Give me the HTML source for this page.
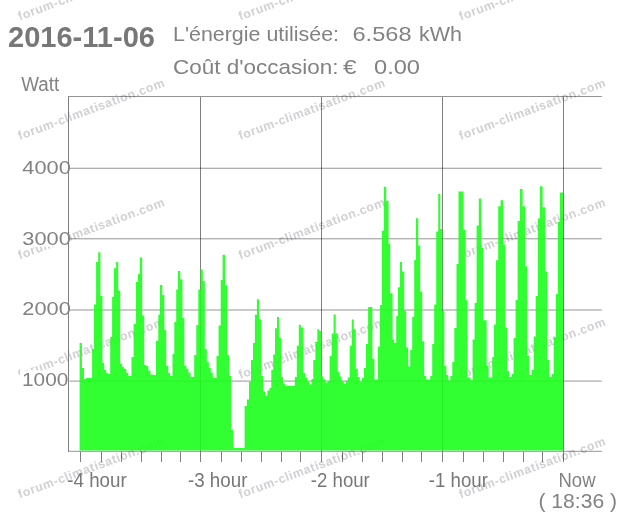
<!DOCTYPE html><html><head><meta charset="utf-8"><title>chart</title><style>html,body{margin:0;padding:0;background:#fff}svg{display:block}</style></head><body><svg width="635" height="523" viewBox="0 0 635 523">
<rect width="635" height="523" fill="#fff"/>
<g font-family="'Liberation Sans', sans-serif" font-weight="bold" font-size="12.3" fill="#d1d1d5"><text transform="translate(19.8,20.5) rotate(-20.3)" textLength="155" lengthAdjust="spacing">forum-climatisation.com</text><text transform="translate(240.3,20.5) rotate(-20.3)" textLength="155" lengthAdjust="spacing">forum-climatisation.com</text><text transform="translate(460.8,20.5) rotate(-20.3)" textLength="155" lengthAdjust="spacing">forum-climatisation.com</text><text transform="translate(19.8,140.0) rotate(-20.3)" textLength="155" lengthAdjust="spacing">forum-climatisation.com</text><text transform="translate(240.3,140.0) rotate(-20.3)" textLength="155" lengthAdjust="spacing">forum-climatisation.com</text><text transform="translate(460.8,140.0) rotate(-20.3)" textLength="155" lengthAdjust="spacing">forum-climatisation.com</text><text transform="translate(19.8,259.5) rotate(-20.3)" textLength="155" lengthAdjust="spacing">forum-climatisation.com</text><text transform="translate(240.3,259.5) rotate(-20.3)" textLength="155" lengthAdjust="spacing">forum-climatisation.com</text><text transform="translate(460.8,259.5) rotate(-20.3)" textLength="155" lengthAdjust="spacing">forum-climatisation.com</text><text transform="translate(19.8,379.0) rotate(-20.3)" textLength="155" lengthAdjust="spacing">forum-climatisation.com</text><text transform="translate(240.3,379.0) rotate(-20.3)" textLength="155" lengthAdjust="spacing">forum-climatisation.com</text><text transform="translate(460.8,379.0) rotate(-20.3)" textLength="155" lengthAdjust="spacing">forum-climatisation.com</text><text transform="translate(19.8,498.5) rotate(-20.3)" textLength="155" lengthAdjust="spacing">forum-climatisation.com</text><text transform="translate(240.3,498.5) rotate(-20.3)" textLength="155" lengthAdjust="spacing">forum-climatisation.com</text><text transform="translate(460.8,498.5) rotate(-20.3)" textLength="155" lengthAdjust="spacing">forum-climatisation.com</text></g>
<rect x="20" y="370.3" width="48" height="17.5" fill="#fff"/>
<rect x="20" y="299.6" width="48" height="17.5" fill="#fff"/>
<rect x="20" y="229.1" width="48" height="17.5" fill="#fff"/>
<rect x="20" y="158.2" width="48" height="17.5" fill="#fff"/>
<g stroke="#000" stroke-opacity="0.42" stroke-width="1"><line x1="68" y1="96.5" x2="601.8" y2="96.5"/><line x1="69.5" y1="168.25" x2="601.8" y2="168.25"/><line x1="69.5" y1="238.8" x2="601.8" y2="238.8"/><line x1="69.5" y1="310.0" x2="601.8" y2="310.0"/><line x1="69.5" y1="381.1" x2="601.8" y2="381.1"/><line x1="68" y1="451.3" x2="601.8" y2="451.3"/></g>
<g stroke="#000" stroke-opacity="0.5" stroke-width="1"><line x1="68.5" y1="97" x2="68.5" y2="451.3"/><line x1="200.5" y1="97" x2="200.5" y2="451.3"/><line x1="321.5" y1="97" x2="321.5" y2="451.3"/><line x1="442.5" y1="97" x2="442.5" y2="451.3"/><line x1="563.5" y1="97" x2="563.5" y2="451.3"/><line x1="80.50" y1="451.8" x2="80.50" y2="462"/><line x1="101.50" y1="451.8" x2="101.50" y2="462"/><line x1="121.50" y1="451.8" x2="121.50" y2="462"/><line x1="141.50" y1="451.8" x2="141.50" y2="462"/><line x1="161.50" y1="451.8" x2="161.50" y2="462"/><line x1="180.50" y1="451.8" x2="180.50" y2="462"/><line x1="200.50" y1="451.8" x2="200.50" y2="462"/><line x1="221.50" y1="451.8" x2="221.50" y2="462"/><line x1="241.50" y1="451.8" x2="241.50" y2="462"/><line x1="261.50" y1="451.8" x2="261.50" y2="462"/><line x1="281.50" y1="451.8" x2="281.50" y2="462"/><line x1="300.50" y1="451.8" x2="300.50" y2="462"/><line x1="321.50" y1="451.8" x2="321.50" y2="462"/><line x1="342.50" y1="451.8" x2="342.50" y2="462"/><line x1="362.50" y1="451.8" x2="362.50" y2="462"/><line x1="382.50" y1="451.8" x2="382.50" y2="462"/><line x1="402.50" y1="451.8" x2="402.50" y2="462"/><line x1="421.50" y1="451.8" x2="421.50" y2="462"/><line x1="442.50" y1="451.8" x2="442.50" y2="462"/><line x1="463.50" y1="451.8" x2="463.50" y2="462"/><line x1="483.50" y1="451.8" x2="483.50" y2="462"/><line x1="503.50" y1="451.8" x2="503.50" y2="462"/><line x1="523.50" y1="451.8" x2="523.50" y2="462"/><line x1="542.50" y1="451.8" x2="542.50" y2="462"/><line x1="563.50" y1="451.8" x2="563.50" y2="462"/></g>
<path d="M79.60,450.5L79.60,343.0L81.90,343.0L81.90,368.0L84.00,368.0L84.00,379.0L86.00,379.0L86.00,378.0L92.10,378.0L92.10,349.0L94.00,349.0L94.00,304.6L96.10,304.6L96.10,262.0L98.20,262.0L98.20,252.3L100.40,252.3L100.40,296.0L102.40,296.0L102.40,363.0L104.20,363.0L104.20,370.0L106.20,370.0L106.20,373.0L108.20,373.0L108.20,374.0L110.20,374.0L110.20,337.0L112.10,337.0L112.10,296.7L113.90,296.7L113.90,268.3L116.10,268.3L116.10,262.0L118.20,262.0L118.20,290.4L120.20,290.4L120.20,364.0L122.20,364.0L122.20,367.0L124.30,367.0L124.30,369.0L126.30,369.0L126.30,373.0L128.30,373.0L128.30,376.0L131.50,376.0L131.50,357.0L133.60,357.0L133.60,324.0L135.90,324.0L135.90,282.0L137.90,282.0L137.90,274.0L139.90,274.0L139.90,257.6L142.20,257.6L142.20,315.6L144.20,315.6L144.20,365.0L146.20,365.0L146.20,366.0L148.20,366.0L148.20,370.6L150.40,370.6L150.40,374.6L152.80,374.6L152.80,375.0L156.00,375.0L156.00,340.7L158.30,340.7L158.30,314.7L159.90,314.7L159.90,285.0L162.30,285.0L162.30,295.0L164.30,295.0L164.30,330.0L166.20,330.0L166.20,366.0L168.20,366.0L168.20,373.0L170.10,373.0L170.10,376.0L172.50,376.0L172.50,354.0L174.30,354.0L174.30,322.0L176.20,322.0L176.20,289.6L178.00,289.6L178.00,271.0L180.30,271.0L180.30,279.2L182.40,279.2L182.40,318.0L184.30,318.0L184.30,365.7L186.40,365.7L186.40,369.0L188.40,369.0L188.40,372.7L190.60,372.7L190.60,377.0L194.20,377.0L194.20,355.0L196.30,355.0L196.30,325.0L198.30,325.0L198.30,289.6L200.50,289.6L200.50,269.6L202.80,269.6L202.80,281.0L204.80,281.0L204.80,349.0L206.80,349.0L206.80,362.0L208.80,362.0L208.80,368.0L210.80,368.0L210.80,372.7L212.80,372.7L212.80,378.0L216.50,378.0L216.50,356.0L218.60,356.0L218.60,325.5L220.70,325.5L220.70,280.0L222.60,280.0L222.60,254.8L225.00,254.8L225.00,285.3L227.00,285.3L227.00,355.0L229.00,355.0L229.00,376.0L231.00,376.0L231.00,430.0L233.00,430.0L233.00,448.0L244.60,448.0L244.60,406.0L246.90,406.0L246.90,399.5L249.00,399.5L249.00,382.0L251.00,382.0L251.00,360.0L253.00,360.0L253.00,343.0L254.90,343.0L254.90,314.8L256.90,314.8L256.90,299.2L259.00,299.2L259.00,319.2L261.10,319.2L261.10,376.0L263.10,376.0L263.10,391.3L265.20,391.3L265.20,395.7L267.30,395.7L267.30,390.5L269.40,390.5L269.40,388.0L271.30,388.0L271.30,370.0L273.20,370.0L273.20,354.4L275.00,354.4L275.00,328.3L277.00,328.3L277.00,317.0L279.10,317.0L279.10,337.9L281.20,337.9L281.20,377.0L283.00,377.0L283.00,383.5L285.20,383.5L285.20,385.7L294.80,385.7L294.80,377.0L296.80,377.0L296.80,345.7L298.80,345.7L298.80,324.8L300.90,324.8L300.90,327.4L303.20,327.4L303.20,373.0L305.30,373.0L305.30,377.4L307.40,377.4L307.40,381.8L309.60,381.8L309.60,384.4L311.50,384.4L311.50,379.0L313.30,379.0L313.30,360.0L315.40,360.0L315.40,342.0L317.30,342.0L317.30,329.2L319.40,329.2L319.40,331.0L321.50,331.0L321.50,376.6L323.50,376.6L323.50,379.2L325.60,379.2L325.60,382.6L327.60,382.6L327.60,381.0L329.60,381.0L329.60,356.0L331.70,356.0L331.70,333.5L333.60,333.5L333.60,314.4L335.70,314.4L335.70,333.5L337.70,333.5L337.70,372.0L339.70,372.0L339.70,376.6L341.70,376.6L341.70,381.0L343.70,381.0L343.70,383.5L345.70,383.5L345.70,381.0L347.70,381.0L347.70,377.4L349.70,377.4L349.70,345.7L351.80,345.7L351.80,319.6L353.80,319.6L353.80,329.2L355.80,329.2L355.80,368.7L357.80,368.7L357.80,377.0L359.80,377.0L359.80,382.0L361.80,382.0L361.80,378.0L364.00,378.0L364.00,368.0L366.00,368.0L366.00,344.0L368.10,344.0L368.10,307.0L372.40,307.0L372.40,358.7L374.40,358.7L374.40,379.6L377.80,379.6L377.80,346.6L380.00,346.6L380.00,305.0L381.80,305.0L381.80,230.7L383.80,230.7L383.80,186.8L386.20,186.8L386.20,200.8L388.50,200.8L388.50,243.8L390.20,243.8L390.20,293.3L392.50,293.3L392.50,339.6L394.20,339.6L394.20,343.0L396.20,343.0L396.20,316.0L398.00,316.0L398.00,287.2L400.00,287.2L400.00,262.0L402.00,262.0L402.00,271.5L404.20,271.5L404.20,310.7L406.20,310.7L406.20,347.4L408.20,347.4L408.20,366.6L410.20,366.6L410.20,350.0L412.20,350.0L412.20,316.8L414.20,316.8L414.20,260.0L416.00,260.0L416.00,218.2L418.20,218.2L418.20,245.5L420.20,245.5L420.20,291.5L422.20,291.5L422.20,341.3L424.20,341.3L424.20,376.0L426.20,376.0L426.20,379.6L430.20,379.6L430.20,376.0L432.20,376.0L432.20,344.0L434.20,344.0L434.20,304.6L436.20,304.6L436.20,231.6L438.20,231.6L438.20,194.1L440.30,194.1L440.30,229.0L442.30,229.0L442.30,310.7L444.30,310.7L444.30,365.7L446.30,365.7L446.30,375.0L448.30,375.0L448.30,380.5L450.30,380.5L450.30,376.0L452.30,376.0L452.30,362.0L454.30,362.0L454.30,328.0L456.50,328.0L456.50,264.0L458.50,264.0L458.50,191.5L463.30,191.5L463.30,229.8L465.60,229.8L465.60,300.0L467.40,300.0L467.40,377.5L470.50,377.5L470.50,380.3L472.60,380.3L472.60,339.6L474.60,339.6L474.60,302.9L476.60,302.9L476.60,225.5L478.80,225.5L478.80,198.5L481.20,198.5L481.20,248.0L483.00,248.0L483.00,320.3L486.60,320.3L486.60,365.7L488.60,365.7L488.60,377.5L492.20,377.5L492.20,357.0L494.00,357.0L494.00,324.6L496.00,324.6L496.00,260.3L498.20,260.3L498.20,206.3L500.60,206.3L500.60,200.2L503.00,200.2L503.00,244.6L505.00,244.6L505.00,327.5L507.00,327.5L507.00,371.0L509.00,371.0L509.00,377.0L511.60,377.0L511.60,374.0L513.60,374.0L513.60,338.0L515.60,338.0L515.60,300.0L517.60,300.0L517.60,221.1L520.00,221.1L520.00,189.0L522.60,189.0L522.60,206.3L525.00,206.3L525.00,266.3L527.00,266.3L527.00,356.0L529.00,356.0L529.00,375.0L531.60,375.0L531.60,370.0L533.70,370.0L533.70,336.5L535.70,336.5L535.70,296.0L537.80,296.0L537.80,218.5L539.80,218.5L539.80,186.3L542.60,186.3L542.60,207.2L545.00,207.2L545.00,271.5L547.00,271.5L547.00,360.0L549.00,360.0L549.00,377.0L551.60,377.0L551.60,374.0L553.70,374.0L553.70,337.5L555.80,337.5L555.80,294.0L557.80,294.0L557.80,222.0L559.90,222.0L559.90,192.4L563.00,192.4L563.00,450.5Z" fill="rgb(28,255,28)" fill-opacity="0.9"/>
<g font-family="'Liberation Sans', sans-serif"><text x="8" y="47.3" font-size="30" textLength="147" lengthAdjust="spacingAndGlyphs" font-weight="bold" fill="#777">2016-11-06</text><text y="40.8" font-size="21" fill="#828282"><tspan x="173" textLength="166" lengthAdjust="spacingAndGlyphs">L'énergie utilisée:</tspan> <tspan x="352.5" textLength="59" lengthAdjust="spacingAndGlyphs">6.568</tspan> <tspan x="419" textLength="43" lengthAdjust="spacingAndGlyphs">kWh</tspan></text><text y="74.3" font-size="21" fill="#828282"><tspan x="173" textLength="165.5" lengthAdjust="spacingAndGlyphs">Coût d'occasion:</tspan> <tspan x="343" textLength="13.5" lengthAdjust="spacingAndGlyphs">€</tspan> <tspan x="374" textLength="46" lengthAdjust="spacingAndGlyphs">0.00</tspan></text><text x="21.3" y="90.9" font-size="19.6" textLength="38" lengthAdjust="spacingAndGlyphs" fill="#828282">Watt</text><text x="22.3" y="173.7" font-size="18.6" textLength="48.5" lengthAdjust="spacingAndGlyphs" fill="#828282">4000</text><text x="22.3" y="244.6" font-size="18.6" textLength="48.5" lengthAdjust="spacingAndGlyphs" fill="#828282">3000</text><text x="22.3" y="315.1" font-size="18.6" textLength="48.5" lengthAdjust="spacingAndGlyphs" fill="#828282">2000</text><text x="22.0" y="385.8" font-size="18.6" textLength="46.3" lengthAdjust="spacingAndGlyphs" fill="#828282">1000</text><text x="67.3" y="486.7" font-size="20.6" textLength="59.4" lengthAdjust="spacingAndGlyphs" fill="#777">-4 hour</text><text x="188.0" y="486.7" font-size="20.6" textLength="59.4" lengthAdjust="spacingAndGlyphs" fill="#777">-3 hour</text><text x="310.8" y="486.7" font-size="20.6" textLength="59.0" lengthAdjust="spacingAndGlyphs" fill="#777">-2 hour</text><text x="428.8" y="486.7" font-size="20.6" textLength="59.2" lengthAdjust="spacingAndGlyphs" fill="#777">-1 hour</text><text x="558.5" y="486.6" font-size="19.3" textLength="37" lengthAdjust="spacingAndGlyphs" fill="#828282">Now</text><text x="538.5" y="508.2" font-size="19.3" textLength="78.5" lengthAdjust="spacingAndGlyphs" fill="#828282">( 18:36 )</text></g>
</svg></body></html>
